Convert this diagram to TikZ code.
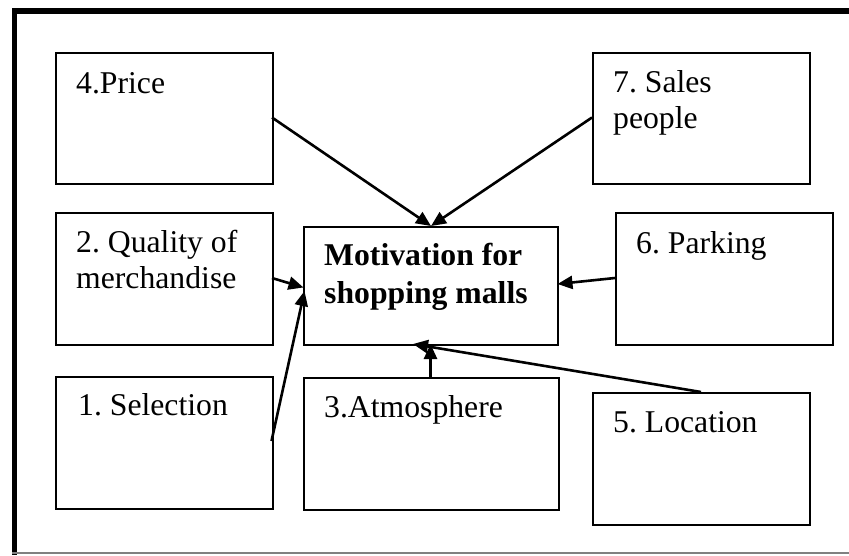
\documentclass[tikz,border=0pt]{standalone}
\usepackage{fontspec}
\setmainfont{Liberation Serif}
\usetikzlibrary{arrows.meta}
\frenchspacing
\begin{document}
\begin{tikzpicture}[x=1pt,y=-1pt,
  box/.style={draw=black,line width=1.8pt,rectangle,inner sep=0pt,anchor=north west},
  txt/.style={anchor=base west,inner sep=0pt,align=left,font=\fontsize{31.7}{36}\selectfont\frenchspacing},
  btxt/.style={anchor=base west,inner sep=0pt,align=left,font=\fontsize{31.7}{38}\selectfont\bfseries\frenchspacing},
  arr/.style={line width=2.6pt,-{Triangle[length=15pt,width=13pt]}}]
\useasboundingbox (0,0) rectangle (849,555);
% frame
\draw[line width=5.7pt] (12,11.2) -- (849,11.2);
\draw[line width=5pt] (14.2,8.3) -- (14.2,555);
\draw[line width=2pt,gray] (12,553) -- (849,553);
% boxes
\node[box,minimum width=217pt,minimum height=131pt] (price) at (55,52) {};
\node[box,minimum width=217pt,minimum height=131pt] (sales) at (592,52) {};
\node[box,minimum width=217pt,minimum height=132pt] (quality) at (55,212) {};
\node[box,minimum width=254pt,minimum height=118pt] (mot) at (303,226) {};
\node[box,minimum width=217pt,minimum height=132pt] (parking) at (615,212) {};
\node[box,minimum width=217pt,minimum height=132pt] (selection) at (55,376) {};
\node[box,minimum width=255pt,minimum height=132pt] (atmo) at (303,377) {};
\node[box,minimum width=217pt,minimum height=132pt] (location) at (592,392) {};
% texts (base = baseline of last line)
\node[txt] (tprice) at (76,93) {4.Price};
\node[txt] (tsales) at (613,128) {7. Sales\\people};
\node[txt] (tquality) at (76,288) {2. Quality of\\merchandise};
\node[btxt] (tmot) at (324,303) {Motivation for\\shopping malls};
\node[txt] (tparking) at (636,253) {6. Parking};
\node[txt] (tselection) at (78,415) {1. Selection};
\node[txt] (tatmo) at (324,417) {3.Atmosphere};
\node[txt] (tlocation) at (613,432) {5. Location};
% connector endpoints
\coordinate (p1) at (272,117.5);
\coordinate (p2) at (592,117.5);
\coordinate (mtop) at (431,226);
\coordinate (q1) at (272,278);
\coordinate (mq) at (303.5,287.5);
\coordinate (s1) at (271.5,441);
\coordinate (ms) at (304.5,291);
\coordinate (k1) at (615,278);
\coordinate (mk) at (557.5,284);
\coordinate (a1) at (430.5,377);
\coordinate (ma) at (430.5,344);
\coordinate (l1) at (701,392);
\coordinate (ml) at (413,344);
% arrows
\draw[arr] (p1) -- (mtop);
\draw[arr] (p2) -- (mtop);
\draw[arr] (q1) -- (mq);
\draw[arr] (s1) -- (ms);
\draw[arr] (k1) -- (mk);
\draw[arr] (a1) -- (ma);
\draw[arr] (l1) -- (ml);
\end{tikzpicture}
\end{document}
